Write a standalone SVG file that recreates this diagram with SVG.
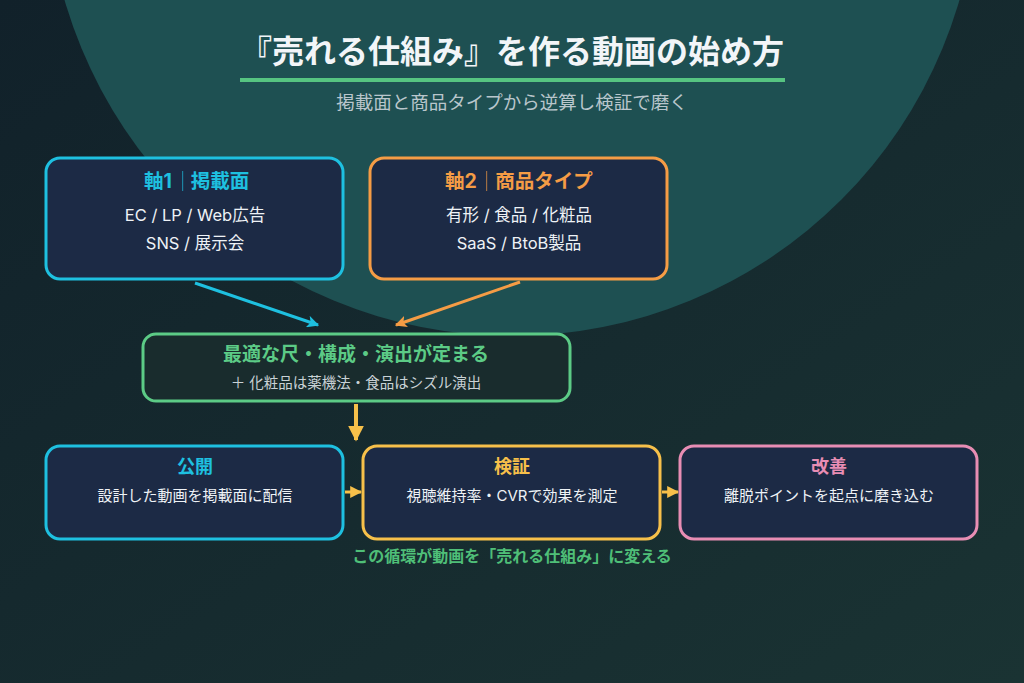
<svg xmlns="http://www.w3.org/2000/svg" width="1024" height="683" viewBox="0 0 1024 683">
<defs>
<linearGradient id="bg" x1="0" y1="0" x2="1" y2="1">
<stop offset="0" stop-color="#11212a"/>
<stop offset="1" stop-color="#1a3333"/>
</linearGradient>
<marker id="mCyan" viewBox="0 0 10 10" refX="9" refY="5" markerWidth="4" markerHeight="4" orient="auto" markerUnits="strokeWidth"><path d="M0,0 L10,5 L0,10 L2.5,5 z" fill="#1ec0e0"/></marker>
<marker id="mOrange" viewBox="0 0 10 10" refX="9" refY="5" markerWidth="4" markerHeight="4" orient="auto" markerUnits="strokeWidth"><path d="M0,0 L10,5 L0,10 L2.5,5 z" fill="#f59c45"/></marker>
<marker id="mYellow" viewBox="0 0 10 10" refX="9" refY="5" markerWidth="4" markerHeight="4" orient="auto" markerUnits="strokeWidth"><path d="M0,0 L10,5 L0,10 z" fill="#f7c04a"/></marker>
<style>
text{font-family:Inter,"Noto Sans CJK JP",sans-serif;text-anchor:middle}
.box{fill:#1c2a45;stroke-width:3}
.ttl{font-weight:700;font-size:19.5px}
.body{fill:#eef2f6;font-size:16.5px}
.desc{fill:#eef2f6;font-size:15px}
.h{font-weight:700;font-size:18px}
</style>
</defs>
<rect width="1024" height="683" fill="url(#bg)"/>
<circle cx="512" cy="-130" r="466" fill="#1e5052"/>
<g id="title">
<text x="512" y="63" font-size="32" font-weight="700" fill="#f2f5f8">『売れる仕組み』を作る動画の始め方</text>
<rect x="240" y="78" width="545" height="4" fill="#56c481"/>
<text x="512" y="109" font-size="18.5" fill="#b9c6cc">掲載面と商品タイプから逆算し検証で磨く</text>
</g>
<g id="connectors" fill="none">
<line x1="195" y1="283" x2="318" y2="325" stroke="#1ec0e0" stroke-width="3" marker-end="url(#mCyan)"/>
<line x1="520" y1="282" x2="396" y2="325" stroke="#f59c45" stroke-width="3" marker-end="url(#mOrange)"/>
<line x1="356" y1="404" x2="356" y2="440" stroke="#f7c04a" stroke-width="4" marker-end="url(#mYellow)"/>
<line x1="345" y1="492" x2="361" y2="492" stroke="#f7c04a" stroke-width="3" marker-end="url(#mYellow)"/>
<line x1="662" y1="492" x2="678" y2="492" stroke="#f7c04a" stroke-width="3" marker-end="url(#mYellow)"/>
</g>
<g id="axis1">
<rect class="box" x="46" y="158" width="297" height="121" rx="14" stroke="#1ec0e0"/>
<text class="ttl" x="158" y="188" fill="#1ec0e0">軸1</text>
<rect x="182" y="171" width="1.2" height="20" fill="#1ec0e0" opacity="0.6"/>
<text class="ttl" x="220" y="188" fill="#1ec0e0">掲載面</text>
<text class="body" x="195" y="221">EC / LP / Web広告</text>
<text class="body" x="195" y="249">SNS / 展示会</text>
</g>
<g id="axis2">
<rect class="box" x="370" y="158" width="297" height="121" rx="14" stroke="#f59c45"/>
<text class="ttl" x="461" y="188" fill="#f59c45">軸2</text>
<rect x="486" y="171" width="1.2" height="20" fill="#f59c45" opacity="0.6"/>
<text class="ttl" x="544" y="188" fill="#f59c45">商品タイプ</text>
<text class="body" x="519" y="221">有形 / 食品 / 化粧品</text>
<text class="body" x="519" y="249">SaaS / BtoB製品</text>
</g>
<g id="result">
<rect x="143" y="334" width="427" height="67" rx="13" fill="#192c2d" stroke="#5ccb86" stroke-width="3"/>
<text x="356" y="361" font-size="19" font-weight="700" fill="#5ccb86">最適な尺・構成・演出が定まる</text>
<text x="356" y="388" font-size="14.5" fill="#c9d2d6">＋ 化粧品は薬機法・食品はシズル演出</text>
</g>
<g id="publish">
<rect class="box" x="46" y="446" width="297" height="93" rx="14" stroke="#1ec0e0"/>
<text class="h" x="195" y="473" fill="#1ec0e0">公開</text>
<text class="desc" x="195" y="501">設計した動画を掲載面に配信</text>
</g>
<g id="verify">
<rect class="box" x="363" y="446" width="297" height="93" rx="14" stroke="#f7c04a"/>
<text class="h" x="512" y="473" fill="#f7c04a">検証</text>
<text class="desc" x="512" y="501">視聴維持率・CVRで効果を測定</text>
</g>
<g id="improve">
<rect class="box" x="680" y="446" width="297" height="93" rx="14" stroke="#e88db4"/>
<text class="h" x="829" y="473" fill="#e88db4">改善</text>
<text class="desc" x="829" y="501">離脱ポイントを起点に磨き込む</text>
</g>
<g id="caption">
<text x="512" y="562" font-size="16" font-weight="700" fill="#4fbf78">この循環が動画を「売れる仕組み」に変える</text>
</g>
</svg>
